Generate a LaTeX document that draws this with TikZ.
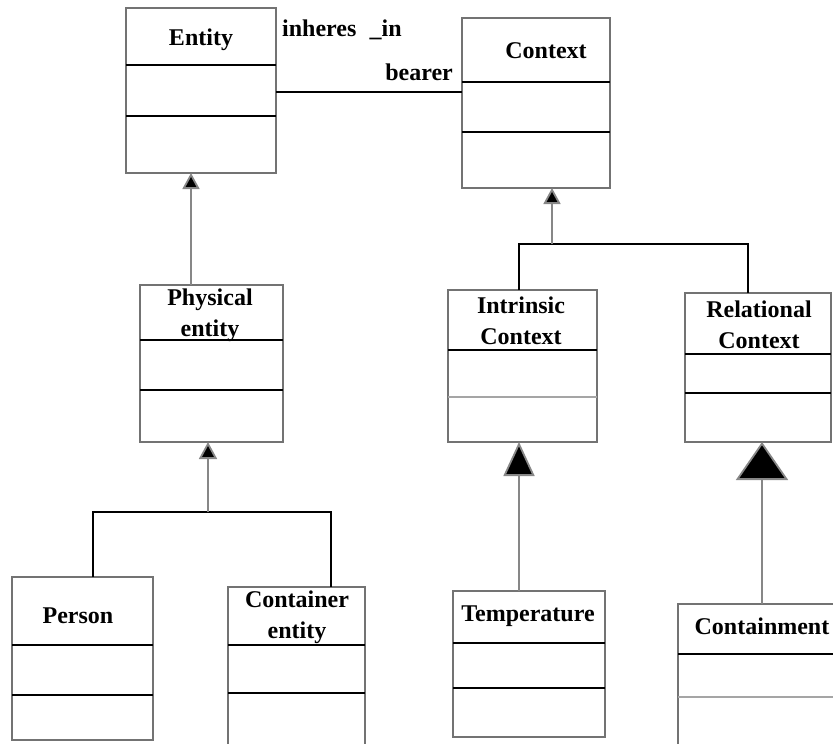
\documentclass[tikz,border=0pt]{standalone}
\usepackage{fontspec}
\setmainfont{Liberation Serif}
\usetikzlibrary{arrows.meta}

\definecolor{edgegray}{RGB}{115,115,115}
\definecolor{linegray}{RGB}{135,135,135}
\definecolor{lightdiv}{RGB}{165,165,165}

\tikzset{
  umlbox/.style={draw=edgegray, line width=1.8pt, inner sep=0pt, outer sep=0pt},
  divider/.style={draw=black, line width=1.4pt},
  softdivider/.style={draw=lightdiv, line width=1.2pt},
  classname/.style={font=\fontsize{24}{31}\selectfont\bfseries, align=center, inner sep=0pt},
  rolename/.style={font=\fontsize{24}{31}\selectfont\bfseries, inner sep=0pt},
  treeline/.style={draw=black, line width=1.4pt},
  assoc/.style={draw=black, line width=1.4pt},
  genline/.style={draw=linegray, line width=1.8pt},
  smallgen/.style={genline, -{Triangle[length=16pt,width=17pt,fill=black]}},
}

% class box: name, left, top, right, bottom
\newcommand\classbox[5]{%
  \node[umlbox, anchor=north west, minimum width={#4-#2}, minimum height={#5-#3}] (#1) at (#2,#3) {};}

\begin{document}
\begin{tikzpicture}[x=1pt,y=-1pt]
\useasboundingbox (0,0) rectangle (833,744);
\clip (0,0) rectangle (833,744);

% ---- classes ----
\classbox{entity}{126}{8}{276}{173}
\draw[divider] (126,65) -- (276,65);
\draw[divider] (126,116) -- (276,116);
\node[classname] (entityname) at (201,40) {Entity};

\classbox{context}{462}{18}{610}{188}
\draw[divider] (462,82) -- (610,82);
\draw[divider] (462,132) -- (610,132);
\node[classname] (contextname) at (546,51) {Context};

\classbox{physical}{140}{285}{283}{442}
\draw[divider] (140,340) -- (283,340);
\draw[divider] (140,390) -- (283,390);
\node[classname] (physicalname) at (210,315) {Physical\\entity};

\classbox{intrinsic}{448}{290}{597}{442}
\draw[divider] (448,350) -- (597,350);
\draw[softdivider] (448,397) -- (597,397);
\node[classname] (intrinsicname) at (521,321) {Intrinsic\\Context};

\classbox{relational}{685}{293}{831}{442}
\draw[divider] (685,354) -- (831,354);
\draw[divider] (685,393) -- (831,393);
\node[classname] (relationalname) at (759,325) {Relational\\Context};

\classbox{person}{12}{577}{153}{740}
\draw[divider] (12,645) -- (153,645);
\draw[divider] (12,695) -- (153,695);
\node[classname] (personname) at (78,616) {Person};

\classbox{container}{228}{587}{365}{760}
\draw[divider] (228,645) -- (365,645);
\draw[divider] (228,693) -- (365,693);
\node[classname] (containername) at (297,617) {Container\\entity};

\classbox{temperature}{453}{591}{605}{737}
\draw[divider] (453,643) -- (605,643);
\draw[divider] (453,688) -- (605,688);
\node[classname] (temperaturename) at (528,616) {Temperature};

\classbox{containment}{678}{604}{850}{770}
\draw[divider] (678,654) -- (850,654);
\draw[softdivider] (678,697) -- (850,697);
\node[classname] (containmentname) at (762,626) {Containment};

% ---- association ----
\draw[assoc] (entity.east |- 0,92) -- (context.west |- 0,92);
\node[rolename, anchor=west] (inheres) at (282,30) {inheres\hspace{0.55em}\_in};
\node[rolename, anchor=east] (bearer) at (453,72) {bearer};

% ---- generalisations ----
\draw[smallgen] (physical.north -| 191,0) -- (entity.south -| 191,0);

\coordinate (pjoin) at (208,512);
\draw[treeline] (person.north -| 93,0) |- (pjoin) -| (container.north -| 331,0);
\draw[genline, -{Triangle[length=17pt,width=18pt,fill=black]}] (pjoin) -- (physical.south -| pjoin);

\coordinate (cjoin) at (552,244);
\draw[treeline] (intrinsic.north -| 519,0) |- (cjoin) -| (relational.north -| 748,0);
\draw[genline, -{Triangle[length=16pt,width=17pt,fill=black]}] (cjoin) -- (context.south -| cjoin);

\draw[genline, -{Triangle[length=34pt,width=31pt,fill=black]}] (temperature.north -| 519,0) -- (intrinsic.south -| 519,0);
\draw[genline, -{Triangle[length=38pt,width=52pt,fill=black]}] (containment.north -| 762,0) -- (relational.south -| 762,0);
\end{tikzpicture}
\end{document}
